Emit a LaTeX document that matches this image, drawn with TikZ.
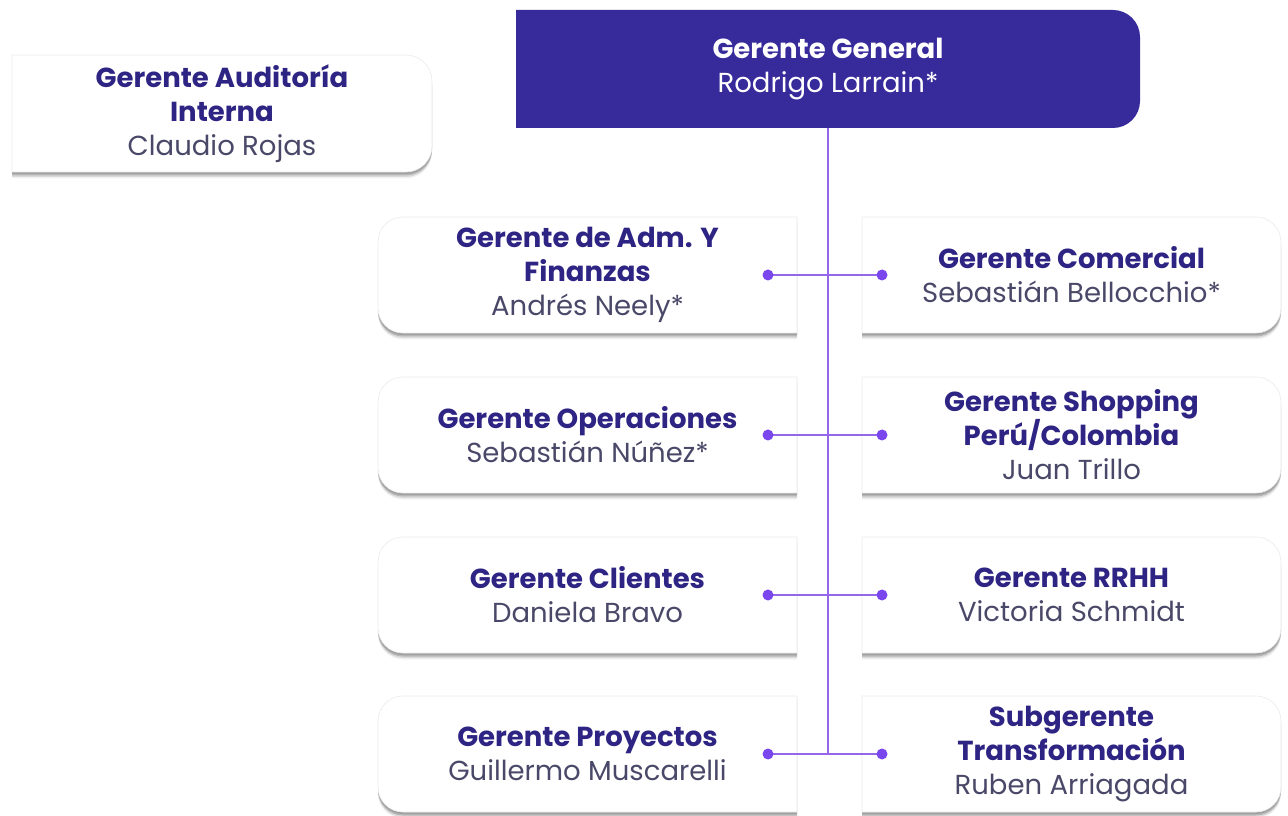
\documentclass[tikz,border=0pt]{standalone}
\usepackage{fontspec}
\setmainfont{Poppins}
\usetikzlibrary{backgrounds}
\definecolor{topfill}{HTML}{372A9B}
\definecolor{ttlc}{HTML}{2E2483}
\definecolor{nmc}{HTML}{4A4868}
\definecolor{connc}{HTML}{9467EA}
\definecolor{dotc}{HTML}{7A46EE}
\newcommand\tline[1]{{\bfseries\color{ttlc}#1}}
\newcommand\nline[1]{{\color{nmc}#1}}
\newcommand\Rshape[5]{(#1,#2) -- ({#3-#5},#2) arc[start angle=-90,end angle=0,radius=#5] -- (#3,{#4-#5}) arc[start angle=0,end angle=90,radius=#5] -- (#1,#4) -- cycle}
\newcommand\Lshape[5]{(#3,#2) -- (#3,#4) -- ({#1+#5},#4) arc[start angle=90,end angle=180,radius=#5] -- (#1,{#2+#5}) arc[start angle=180,end angle=270,radius=#5] -- cycle}
\newcommand\cardshadow[1]{%
  \begin{scope}[yshift=-2pt]\fill[black,opacity=.12] #1;\end{scope}
  \begin{scope}[yshift=-3.5pt]\fill[black,opacity=.16] #1;\end{scope}
  \begin{scope}[yshift=-5pt]\fill[black,opacity=.10] #1;\end{scope}
  \begin{scope}[yshift=-6.5pt]\fill[black,opacity=.05] #1;\end{scope}
  \fill[white,draw=black!8,line width=.6pt] #1;}
\tikzset{
  card/.style={minimum width=419pt, minimum height=116pt, inner sep=0pt, align=center, font=\fontsize{27.5}{34}\selectfont},
  topcard/.style={minimum width=624pt, minimum height=118pt, inner sep=0pt, align=center, text=white, font=\fontsize{27.5}{34}\selectfont},
  conn/.style={draw=connc, line width=1.8pt},
  dotmark/.style={fill=dotc},
}
\begin{document}
\begin{tikzpicture}[x=1pt,y=1pt]
\useasboundingbox (0,0) rectangle (1288,815);
% nodes
\node[topcard] (gg) at (828,746) {\textbf{Gerente General}\\Rodrigo Larrain*};
\node[card, minimum width=420pt, minimum height=117pt] (aud) at (222,701.5) {\tline{Gerente Auditoría}\\\tline{Interna}\\\nline{Claudio Rojas}};
\node[card] (adm) at (587.5,540) {\tline{Gerente de Adm. Y}\\\tline{Finanzas}\\\nline{Andrés Neely*}};
\node[card] (com) at (1071.5,540) {\tline{Gerente Comercial}\\\nline{Sebastián Bellocchio*}};
\node[card] (ope) at (587.5,380) {\tline{Gerente Operaciones}\\\nline{Sebastián Núñez*}};
\node[card] (sho) at (1071.5,380) {\tline{Gerente Shopping}\\\tline{Perú/Colombia}\\\nline{Juan Trillo}};
\node[card] (cli) at (587.5,220) {\tline{Gerente Clientes}\\\nline{Daniela Bravo}};
\node[card] (rrh) at (1071.5,220) {\tline{Gerente RRHH}\\\nline{Victoria Schmidt}};
\node[card] (pro) at (587.5,61) {\tline{Gerente Proyectos}\\\nline{Guillermo Muscarelli}};
\node[card] (tra) at (1071.5,61) {\tline{Subgerente}\\\tline{Transformación}\\\nline{Ruben Arriagada}};
% backgrounds
\begin{pgfonlayer}{background}
\fill[topfill] \Rshape{516}{687}{1140}{805}{27};
\cardshadow{\Rshape{12}{643}{432}{760}{26}}
\cardshadow{\Lshape{378}{482}{797}{598}{25}}
\cardshadow{\Rshape{862}{482}{1281}{598}{25}}
\cardshadow{\Lshape{378}{322}{797}{438}{25}}
\cardshadow{\Rshape{862}{322}{1281}{438}{25}}
\cardshadow{\Lshape{378}{162}{797}{278}{25}}
\cardshadow{\Rshape{862}{162}{1281}{278}{25}}
\cardshadow{\Lshape{378}{3}{797}{119}{25}}
\cardshadow{\Rshape{862}{3}{1281}{119}{25}}
\end{pgfonlayer}
% connector points
\coordinate (dl1) at (768,540); \coordinate (dr1) at (882,540);
\coordinate (dl2) at (768,380); \coordinate (dr2) at (882,380);
\coordinate (dl3) at (768,220); \coordinate (dr3) at (882,220);
\coordinate (dl4) at (768,61);  \coordinate (dr4) at (882,61);
\coordinate (j4) at (828,61);
\draw[conn, line width=1.4pt] (gg.south) -- (j4);
\foreach \i in {1,2,3,4}{
  \draw[conn] (dl\i) -- (dr\i);
  \fill[dotmark] (dl\i) circle[radius=5.5];
  \fill[dotmark] (dr\i) circle[radius=5.5];
}
\end{tikzpicture}
\end{document}
